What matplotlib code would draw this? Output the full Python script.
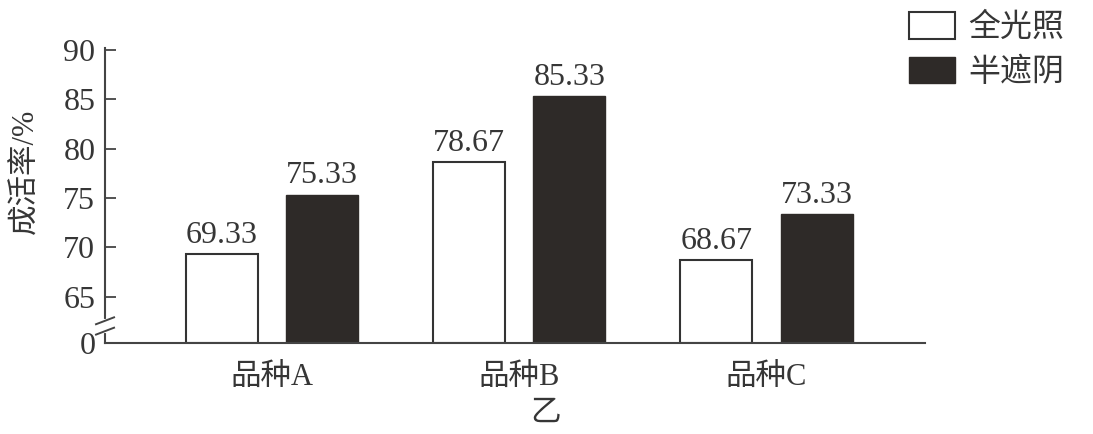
import matplotlib
matplotlib.use("Agg")
import matplotlib.pyplot as plt
import numpy as np
from matplotlib.patches import Patch

categories = ["品种A", "品种B", "品种C"]
full_light = [69.33, 78.67, 68.67]
half_shade = [75.33, 85.33, 73.33]
series_names = ["全光照", "半遮阴"]
ytick_values = [65, 70, 75, 80, 85, 90]
ylabel = "成活率/%"
xlabel = "乙"

FONT = ["Liberation Serif", "Noto Sans CJK SC", "DejaVu Sans"]
plt.rcParams["font.family"] = FONT
TXT = "#363636"
LINE = "#444444"
DARK = "#2e2a28"

fig = plt.figure(figsize=(10.93, 4.34), dpi=100)
ax = fig.add_axes([0.0961, 0.2097, 0.750, 0.680])

ybottom = 60.3
x = np.arange(len(categories))
off = 0.203
w = 0.291
b1 = ax.bar(x - off, np.array(full_light) - ybottom, w, bottom=ybottom,
            facecolor="white", edgecolor="#333333", linewidth=1.5)
b2 = ax.bar(x + off, np.array(half_shade) - ybottom, w, bottom=ybottom,
            facecolor=DARK, edgecolor=DARK, linewidth=1.0)

for bars, vals in ((b1, full_light), (b2, half_shade)):
    for r, v in zip(bars, vals):
        ax.annotate(f"{v:.2f}", (r.get_x() + r.get_width() / 2, v),
                    xytext=(0, 3), textcoords="offset points",
                    ha="center", va="bottom", fontsize=23, color=TXT)

ax.set_xlim(-0.674, 2.64)
ax.set_ylim(ybottom, 90.2)
ax.set_yticks([ybottom] + ytick_values)
ax.set_yticklabels(["0"] + [str(v) for v in ytick_values])
ax.yaxis.get_major_ticks()[0].tick1line.set_visible(False)
ax.tick_params(axis="y", direction="in", length=8, width=1.3, color=LINE,
               labelsize=23, labelcolor=TXT, pad=7)
ax.set_xticks(x)
ax.set_xticklabels(categories)
ax.tick_params(axis="x", length=0, labelsize=22, labelcolor=TXT, pad=14)

for s in ("top", "right"):
    ax.spines[s].set_visible(False)
for s in ("left", "bottom"):
    ax.spines[s].set_color(LINE)
    ax.spines[s].set_linewidth(1.5)

# axis break marks
tr = ax.get_yaxis_transform()
ax.plot([0, 0], [61.55, 62.5], transform=tr, color="white", lw=3,
        clip_on=False, zorder=5)
for yc in (61.5, 62.55):
    ax.plot([-0.011, 0.011], [yc - 0.35, yc + 0.35], transform=tr,
            color=LINE, lw=1.4, clip_on=False, zorder=6)

ax.set_ylabel(ylabel, fontsize=22, color=TXT)
ax.yaxis.set_label_coords(-0.079, 0.58)
fig.text(0.499, 0.048, xlabel, fontsize=22, color=TXT, ha="center", va="center")

handles = [Patch(facecolor="white", edgecolor="#333333", linewidth=1.5),
           Patch(facecolor=DARK, edgecolor=DARK)]
fig.legend(handles, series_names, loc="upper left",
           bbox_to_anchor=(0.8055, 1.04), frameon=False,
           handlelength=1.45, handleheight=0.9,
           handletextpad=0.4, labelspacing=0.4, labelcolor=TXT,
           prop={"family": ["Noto Sans CJK SC"], "size": 23})

fig.savefig("out.png", dpi=100)
